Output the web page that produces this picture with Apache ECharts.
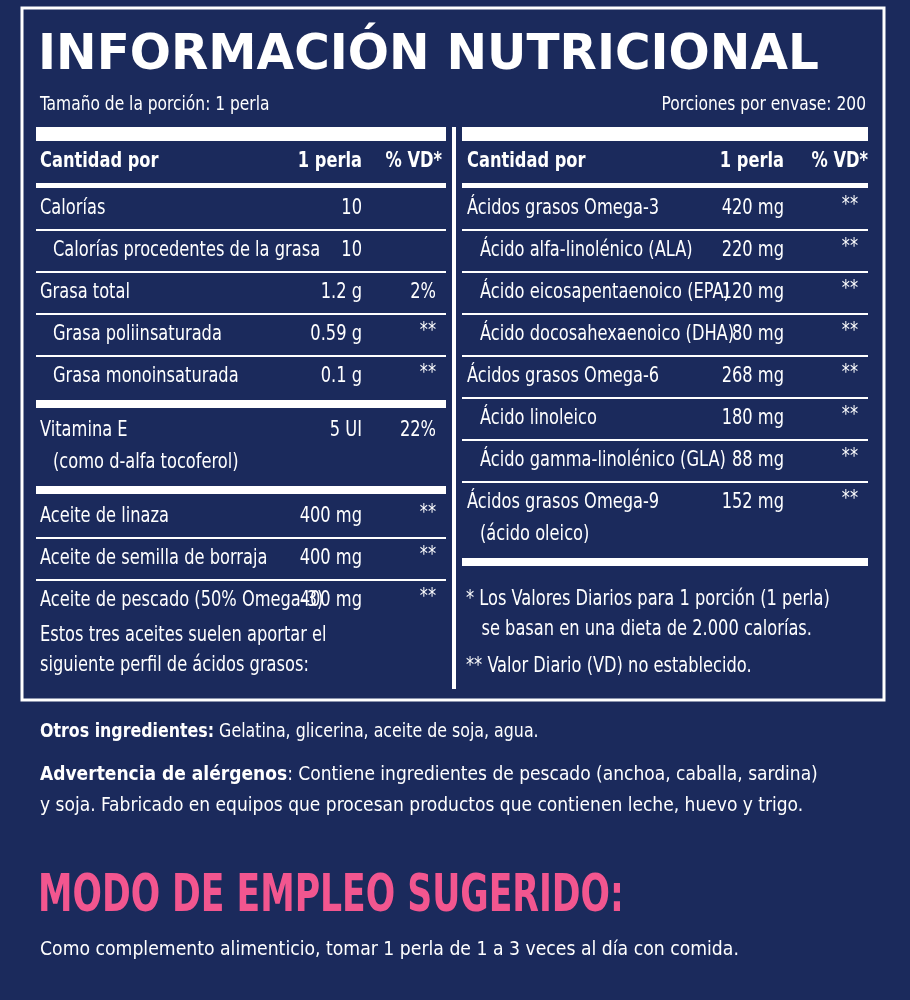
<!DOCTYPE html>
<html><head><meta charset="utf-8">
<script src="https://cdn.jsdelivr.net/npm/echarts@6/dist/echarts.min.js"></script>
<style>html,body{margin:0;padding:0;background:#1b2a5c}#c{width:910px;height:1000px}</style>
</head><body><div id="c"></div>
<script>
const title = 'INFORMACIÓN NUTRICIONAL';
const servingLeft = 'Tamaño de la porción: 1 perla';
const servingRight = 'Porciones por envase: 200';
const headers = ['Cantidad por', '1 perla', '% VD*'];
// [label lines, indent, amount, %VD]
const leftGroup1 = [
  [['Calorías'], 0, '10', ''],
  [['Calorías procedentes de la grasa'], 1, '10', ''],
  [['Grasa total'], 0, '1.2 g', '2%'],
  [['Grasa poliinsaturada'], 1, '0.59 g', '**'],
  [['Grasa monoinsaturada'], 1, '0.1 g', '**']
];
const leftGroup2 = [
  [['Vitamina E', '(como d-alfa tocoferol)'], 0, '5 UI', '22%']
];
const leftGroup3 = [
  [['Aceite de linaza'], 0, '400 mg', '**'],
  [['Aceite de semilla de borraja'], 0, '400 mg', '**'],
  [['Aceite de pescado (50% Omega-3)'], 0, '400 mg', '**']
];
const leftNote = ['Estos tres aceites suelen aportar el', 'siguiente perfil de ácidos grasos:'];
const rightGroup1 = [
  [['Ácidos grasos Omega-3'], 0, '420 mg', '**'],
  [['Ácido alfa-linolénico (ALA)'], 1, '220 mg', '**'],
  [['Ácido eicosapentaenoico (EPA)'], 1, '120 mg', '**'],
  [['Ácido docosahexaenoico (DHA)'], 1, '80 mg', '**'],
  [['Ácidos grasos Omega-6'], 0, '268 mg', '**'],
  [['Ácido linoleico'], 1, '180 mg', '**'],
  [['Ácido gamma-linolénico (GLA)'], 1, '88 mg', '**'],
  [['Ácidos grasos Omega-9', '(ácido oleico)'], 0, '152 mg', '**']
];
const footnotes = [['* Los Valores Diarios para 1 porción (1 perla)', '   se basan en una dieta de 2.000 calorías.'], ['** Valor Diario (VD) no establecido.']];
const otros = ['Otros ingredientes:', ' Gelatina, glicerina, aceite de soja, agua.'];
const advert = ['Advertencia de alérgenos', ': Contiene ingredientes de pescado (anchoa, caballa, sardina)', 'y soja. Fabricado en equipos que procesan productos que contienen leche, huevo y trigo.'];
const modoTitle = 'MODO DE EMPLEO SUGERIDO:';
const modoText = 'Como complemento alimenticio, tomar 1 perla de 1 a 3 veces al día con comida.';

const FF = '"DejaVu Sans Condensed","Liberation Sans Narrow","Roboto",sans-serif';
const W = '#ffffff';
const els = [];
function txt(x, y, s, o) {
  o = o || {};
  els.push({type:'text', x, y, scaleX:o.sx||0.86, style:{text:s, fill:o.fill||W, font:(o.weight||'normal')+' '+(o.size||20)+'px '+(o.family||FF), textAlign:o.align||'left', textVerticalAlign:'middle'}});
}
function rect(x, y, w, h) { els.push({type:'rect', shape:{x, y, width:w, height:h}, style:{fill:W}}); }

els.push({type:'rect', shape:{x:22, y:8, width:862, height:692}, style:{fill:'none', stroke:W, lineWidth:3}});
txt(38, 56, title, {size:50, weight:'bold', sx:0.97, family:'"DejaVu Sans","Liberation Sans",sans-serif'});
txt(40, 105, servingLeft, {size:20});
txt(866, 105, servingRight, {size:20, align:'right'});
rect(452, 127, 4, 562);

function panel(x0, x1, labX, valX, vdX, vdHX, groups, after) {
  rect(x0, 127, x1 - x0, 14);
  txt(labX, 162, headers[0], {weight:'bold', size:21});
  txt(valX, 162, headers[1], {weight:'bold', size:21, align:'right'});
  txt(vdHX, 162, headers[2], {weight:'bold', size:21, align:'right'});
  rect(x0, 183, x1 - x0, 5);
  let y = 188;
  groups.forEach((g, gi) => {
    g.forEach((r, ri) => {
      const lines = r[0];
      const cy = y + 21;
      lines.forEach((l, li) => txt(labX + (r[1] || (li > 0 ? 1 : 0)) * 13, cy + li * 32, l, {size:21}));
      txt(valX, cy, r[2], {align:'right', size:21});
      txt(vdX, cy + (r[3] === '**' ? -3 : 0), r[3], {align:'right', size:21});
      y += 42 + (lines.length - 1) * 32;
      if (ri < g.length - 1) { rect(x0, y - 1, x1 - x0, 2); }
    });
    if (gi < groups.length - 1 || after) { rect(x0, y + 2, x1 - x0, 8); y += 12; }
  });
  return y;
}
panel(36, 446, 40, 362, 436, 442, [leftGroup1, leftGroup2, leftGroup3], false);
txt(40, 636, leftNote[0], {size:21}); txt(40, 666, leftNote[1], {size:21});
panel(462, 868, 467, 784, 858, 868, [rightGroup1], true);
txt(466, 600, footnotes[0][0], {size:21}); txt(466, 630, footnotes[0][1], {size:21}); txt(466, 667, footnotes[1][0], {size:21});

els.push({type:'text', x:40, y:732, scaleX:0.88, style:{text:'{b|'+otros[0]+'}'+otros[1], font:'20px '+FF, fill:W, textVerticalAlign:'middle', rich:{b:{font:'bold 20px '+FF, fill:W}}}});
els.push({type:'text', x:40, y:775, scaleX:0.95, style:{text:'{b|'+advert[0]+'}'+advert[1], font:'20px '+FF, fill:W, textVerticalAlign:'middle', rich:{b:{font:'bold 20px '+FF, fill:W}}}});
txt(40, 806, advert[2], {sx:0.95});
txt(38, 897, modoTitle, {size:52, weight:'bold', sx:0.74, fill:'#f2568f'});
txt(40, 950, modoText, {sx:0.96});

const chart = echarts.init(document.getElementById('c'));
chart.setOption({backgroundColor:'#1b2a5c', graphic:{elements:els}});
</script></body></html>
